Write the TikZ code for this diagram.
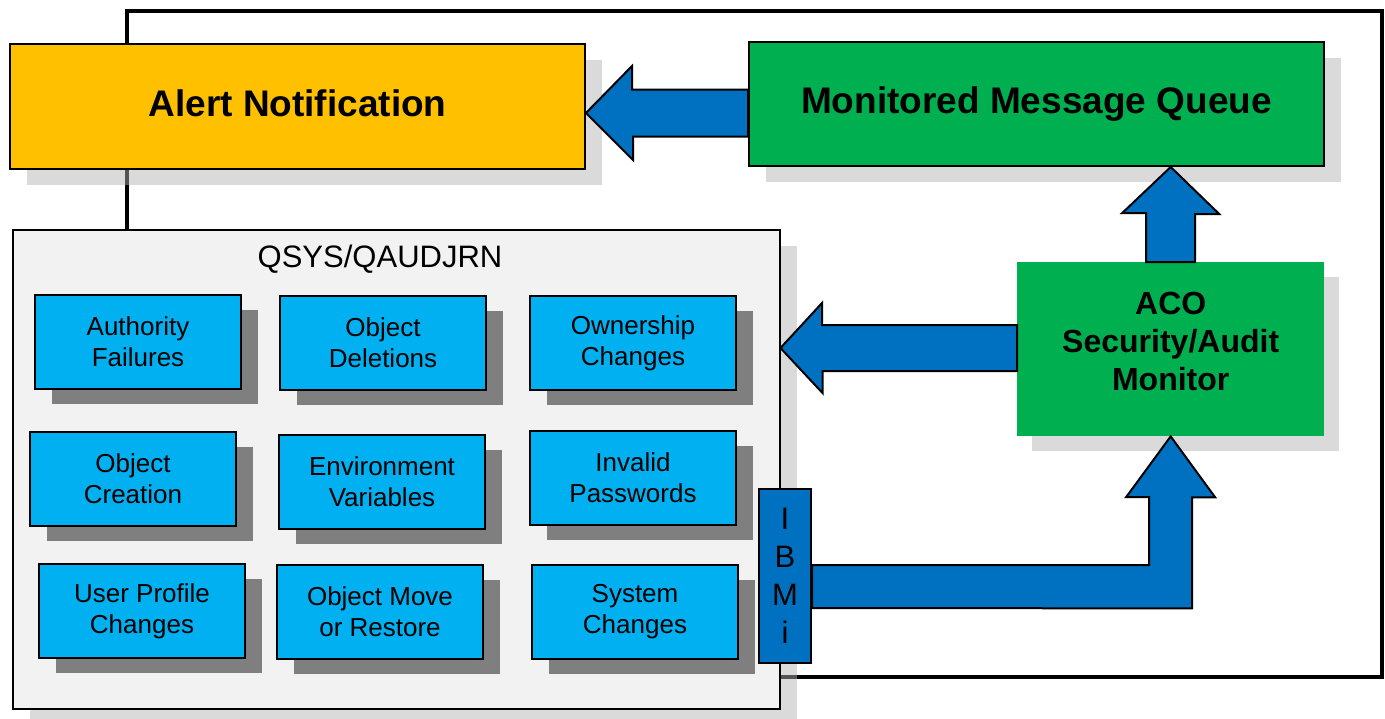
\documentclass[tikz,border=0pt]{standalone}
\usepackage{fontspec}
\setmainfont{Liberation Sans}
\usepackage{tikz}
\usetikzlibrary{calc,shadows}
\definecolor{alertorange}{HTML}{FFC000}
\definecolor{queuegreen}{HTML}{00B050}
\definecolor{arrowblue}{HTML}{0070C0}
\definecolor{eventcyan}{HTML}{00B0F0}
\definecolor{panelgray}{HTML}{F2F2F2}
\definecolor{shadowgray}{RGB}{177,177,177}
\definecolor{shadowdark}{HTML}{7F7F7F}
\tikzset{%
  frameline/.style={line width=3.5pt},%
  light shadow/.style={drop shadow={shadow xshift=17pt,shadow yshift=-16pt,
    fill=shadowgray,opacity=.48}},%
  dark shadow/.style={drop shadow={shadow xshift=17pt,shadow yshift=-15pt,
    fill=shadowdark,opacity=1}},%
  bigbox/.style={draw=black,line width=2pt,anchor=north west,inner sep=0pt,
    align=center,font=\bfseries\fontsize{37}{44}\selectfont,light shadow},%
  eventbox/.style={draw=black,line width=2pt,fill=eventcyan,anchor=north west,
    inner sep=0pt,minimum width=206pt,minimum height=94pt,align=center,
    font=\fontsize{26}{31}\selectfont,dark shadow},%
  blockarrow/.style={draw=black,line width=2pt,fill=arrowblue,line join=miter}%
}

\begin{document}
\begin{tikzpicture}[x=1pt,y=-1pt]
\useasboundingbox (0,0) rectangle (1385,718);

\draw[frameline] (127,11) rectangle (1382,677); %outer loop

\node[bigbox,fill=alertorange,minimum width=575pt,minimum height=125pt] (alert) at (9,43) {Alert Notification\\[-38pt]\mbox{}};
\node[bigbox,fill=queuegreen,minimum width=575pt,minimum height=124pt] (mmq) at (748,41) {Monitored Message Queue};

\node[draw=black,line width=1.5pt,fill=panelgray,anchor=north west,inner sep=0pt,
  minimum width=767pt,minimum height=479pt,light shadow] (qsys) at (12,229) {};
\node[font=\fontsize{31}{36}\selectfont] (journal) at (380,259) {QSYS/QAUDJRN};

% audit journal entries
\node[eventbox] (authfail) at (34,294) {Authority\\Failures};
\node[eventbox] (objdel) at (279,295) {Object\\Deletions};
\node[eventbox] (owner) at (529,295) {Ownership\\Changes};
\node[eventbox] (objcre) at (29,431) {Object\\Creation};
\node[eventbox] (envvar) at (278,434) {Environment\\Variables};
\node[eventbox] (invpwd) at (529,430) {Invalid\\Passwords};
\node[eventbox] (usrprf) at (38,563) {User Profile\\Changes};
\node[eventbox] (objmov) at (276,564) {Object Move\\or Restore};
\node[eventbox] (syschg) at (531,564) {System\\Changes};

\node[fill=queuegreen,anchor=north west,inner sep=0pt,minimum width=307pt,minimum height=174pt,
  align=center,font=\bfseries\fontsize{32}{38}\selectfont,
  drop shadow={shadow xshift=15pt,shadow yshift=-15pt,fill=shadowgray,opacity=.48}]
  (aco) at (1017,262) {ACO\\Security/Audit\\Monitor\\[-22pt]\mbox{}};

\node[draw=black,line width=2pt,fill=arrowblue,anchor=north west,inner sep=0pt,
  minimum width=52pt,minimum height=174pt,align=center,font=\fontsize{31}{38}\selectfont]
  (ibmi) at (758,488) {I\\B\\M\\i};

% block arrows
\draw[blockarrow] (mmq.west |- 0,89.5) -- ++(-116,0) -- ++(0,-23.5) -- (alert.east |- 0,113)
  -- ++(47,47) -- ++(0,-23.5) -- (mmq.west |- 0,136.5) -- cycle; %queue to alert
\draw[blockarrow] (aco.west |- 0,325) -- ++(-195,0) -- ++(0,-22) -- (qsys.east |- 0,348)
  -- ++(42,45) -- ++(0,-22) -- (aco.west |- 0,371) -- cycle; %monitor to journal
\draw[blockarrow] ($(aco.north)+(-24.5,0)$) -- ++(0,-49) -- ++(-24,0) -- (aco.north |- mmq.south)
  -- ++(48.5,47) -- ++(-24,0) -- ($(aco.north)+(24.5,0)$) -- cycle; %monitor to queue
\draw[blockarrow] (ibmi.east |- 0,565) -- ($(aco.south |- 0,565)+(-21.5,0)$) -- ++(0,-68) -- ++(-23,0)
  -- (aco.south) -- ++(44.5,61) -- ++(-23,0) -- ++(0,111) -- (ibmi.east |- 0,608) -- cycle; %ibm i to monitor
\end{tikzpicture}
\end{document}
